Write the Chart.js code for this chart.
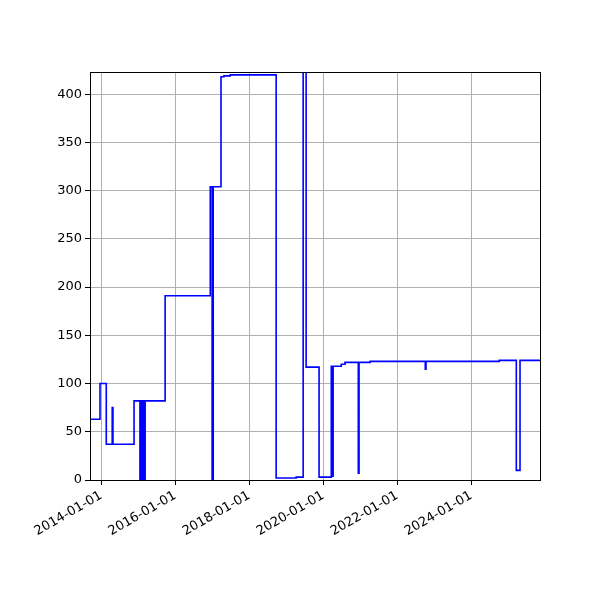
<!DOCTYPE html>
<html><head><script src="https://cdn.jsdelivr.net/npm/chart.js@4"></script>
<style>body{margin:0;background:#fff}</style></head>
<body><canvas id="c" width="600" height="600" style="width:600px;height:600px"></canvas>
<script>
const years = [2013.70,2013.97,2014.14,2014.30,2014.32,2014.89,2015.05,2015.08,2015.11,2015.14,2015.16,2015.19,2015.73,2016.95,2017.00,2017.03,2017.24,2017.32,2017.49,2018.73,2019.27,2019.46,2019.54,2019.89,2020.22,2020.24,2020.27,2020.30,2020.49,2020.59,2020.95,2020.97,2021.27,2022.76,2022.78,2024.76,2025.22,2025.32,2025.86];
const values = [63,100,37,75,37,82,0,82,0,82,0,82,191,304,0,304,418,419,420,2,3,430,117,3,118,4,118,118,120,122,7,122,123,115,123,124,10,124,124];
const tickYears = [2014,2016,2018,2020,2022,2024];
const tickLabels = ['2014-01-01','2016-01-01','2018-01-01','2020-01-01','2022-01-01','2024-01-01'];
const yTicks = [0,50,100,150,200,250,300,350,400];
const font = {family:'DejaVu Sans', size:13};
const box = {id:'box', afterDraw(c){const a=c.chartArea,x=c.ctx;x.save();x.strokeStyle='#000';x.lineWidth=1;x.strokeRect(a.left+0.5,a.top+0.5,a.right-a.left,a.bottom-a.top);x.restore();}};
new Chart(document.getElementById('c'),{
 type:'line',
 data:{datasets:[{data:years.map((y,i)=>({x:y,y:values[i]})),stepped:true,borderColor:'#0000ff',borderWidth:1.6,pointRadius:0,fill:false}]},
 options:{responsive:false,animation:false,
  layout:{padding:{top:72,right:60,left:0,bottom:0}},
  plugins:{legend:{display:false},tooltip:{enabled:false}},
  scales:{
   x:{type:'linear',min:2013.70,max:2025.86,
     afterBuildTicks(s){s.ticks=tickYears.map(v=>({value:v}));},
     afterFit(s){s.height=120;},
     ticks:{font,color:'#000',maxRotation:30,minRotation:30,callback:(v)=>tickLabels[tickYears.indexOf(v)]||''},
     grid:{color:'#b0b0b0',tickColor:'#000',tickLength:5},border:{color:'#000'}},
   y:{min:0,max:423,
     afterBuildTicks(s){s.ticks=yTicks.map(v=>({value:v}));},
     afterFit(s){s.width=90;},
     ticks:{font,color:'#000'},
     grid:{color:'#b0b0b0',tickColor:'#000',tickLength:5},border:{color:'#000'}}
  }},
 plugins:[box]
});
</script></body></html>
